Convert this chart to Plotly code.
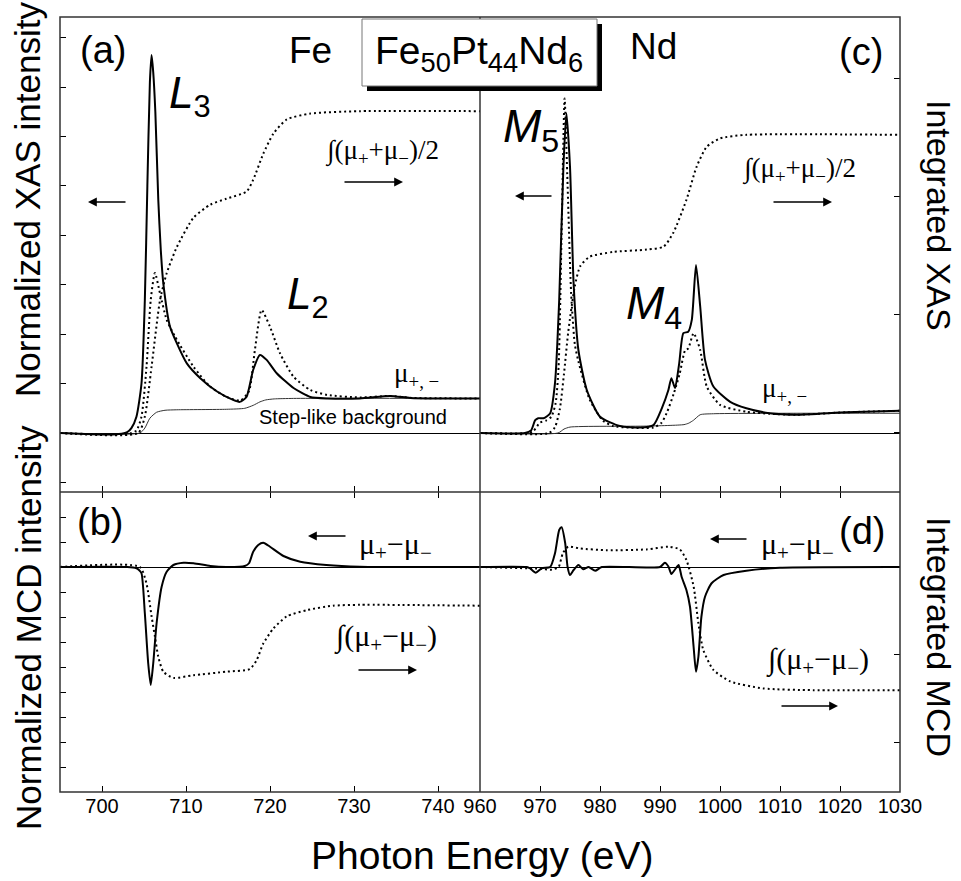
import plotly.graph_objects as go

# ---------------- Fe L2,3 edge (panels a, b) ----------------
fe_xas_minus_e = [695, 698, 700, 702, 703, 703.5, 704.1, 704.7, 705.1, 705.4, 705.7, 705.9,
                  706.1, 706.35, 706.7, 707.0, 707.3, 708.1, 708.9, 710.1, 711.7, 713.7,
                  715.6, 716.4, 717.2, 718.0, 718.8, 719.6, 720.8, 722.8, 724.8, 726.8,
                  730.7, 734.3, 736.7, 740, 745]
fe_xas_minus = [0, -0.02, -0.03, -0.02, 0.02, 0.1, 0.33, 1.0, 2.69, 5.0, 7.1, 7.65,
                7.3, 6.5, 4.72, 3.7, 3.03, 2.15, 1.82, 1.41, 1.11, 0.84,
                0.67, 0.63, 0.73, 1.28, 1.58, 1.48, 1.21, 0.91, 0.73, 0.70,
                0.70, 0.75, 0.71, 0.70, 0.70]

fe_xas_plus_e = [695, 700, 702.5, 703.5, 704.1, 704.7, 705.3, 705.8, 706.3, 706.9, 707.7,
                 708.7, 710.9, 712.8, 714.8, 716.5, 717.5, 718.2, 719.0, 720.0, 721.2,
                 722.8, 724.8, 726.8, 730.7, 734.3, 737, 745]
fe_xas_plus = [0, -0.03, -0.03, 0.0, 0.05, 0.33, 1.34, 2.69, 3.24, 2.83, 2.29,
               1.95, 1.34, 0.95, 0.73, 0.66, 0.85, 1.68, 2.49, 2.15, 1.61,
               1.14, 0.87, 0.77, 0.72, 0.75, 0.71, 0.70]

fe_step_e = [695, 704.5, 705.1, 705.7, 706.5, 707.5, 708.9, 714.8, 717.0, 718.0, 718.8,
             719.5, 720.5, 722.8, 745]
fe_step = [0, 0.0, 0.10, 0.30, 0.42, 0.46, 0.47, 0.48, 0.50, 0.56, 0.63,
           0.67, 0.69, 0.70, 0.70]

fe_int_xas_e = [695, 704.3, 705.1, 705.9, 706.9, 707.7, 708.9, 710.9, 712.9, 714.8, 717.2,
                718.0, 719.2, 720.4, 722.0, 724.8, 730.7, 745]
fe_int_xas = [0, 0, 0.14, 0.56, 1.12, 1.35, 1.57, 1.82, 1.93, 1.98, 2.04,
              2.14, 2.36, 2.53, 2.65, 2.70, 2.72, 2.72]

fe_mcd_e = [695, 703, 704.1, 704.4, 704.7, 705.1, 705.5, 705.8, 706.1, 706.5, 707.1, 707.7,
            708.5, 709.7, 710.9, 712.9, 714.8, 717.0, 717.5, 718.0, 718.6, 719.2, 720.0,
            721.6, 723.6, 726.7, 730.7, 745]
fe_mcd = [0, 0, -0.05, -0.12, -0.25, -1.85, -3.85, -4.72, -3.85, -2.25, -0.79, -0.19,
          0.08, 0.17, 0.15, 0.04, 0.0, 0.04, 0.15, 0.61, 0.88, 0.97, 0.81,
          0.44, 0.21, 0.08, 0.01, 0.0]

fe_int_mcd_e = [695, 704.5, 705.3, 705.9, 706.3, 706.7, 707.3, 708.5, 710.9, 714.8, 717.6,
                718.4, 719.2, 720.4, 722.0, 724.4, 727.5, 730.7, 745]
fe_int_mcd = [0, 0, -0.19, -0.56, -0.79, -1.02, -1.19, -1.26, -1.23, -1.19, -1.16,
              -1.06, -0.87, -0.70, -0.56, -0.49, -0.44, -0.43, -0.44]

# ---------------- Nd M4,5 edge (panels c, d) ----------------
nd_xas_minus_e = [960, 967.5, 968.5, 969.2, 969.7, 970.6, 971.7, 972.5, 973.2, 973.9, 974.4,
                  975.0, 975.6, 976.4, 977.8, 980.0, 983.3, 986.7, 988.9, 990.3, 991.4,
                  991.9, 992.5, 993.2, 993.9, 994.7, 995.3, 996.0, 996.7, 997.5, 998.9,
                  1001.7, 1004.4, 1008.3, 1012.8, 1021.1, 1030]
nd_xas_minus = [0, 0, 0.05, 0.26, 0.30, 0.30, 0.40, 1.01, 2.69, 5.39, 6.47,
                5.39, 3.03, 1.68, 0.87, 0.33, 0.14, 0.11, 0.16, 0.50, 0.87,
                1.11, 0.91, 1.41, 2.02, 2.05, 2.29, 3.40, 2.56, 1.48, 0.94,
                0.63, 0.50, 0.40, 0.37, 0.42, 0.45]

nd_xas_plus_e = [960, 968.0, 968.9, 970.0, 971.0, 971.9, 972.6, 973.1, 973.6, 974.1, 974.6,
                 975.2, 975.8, 976.4, 978.3, 980.5, 982.2, 988.9, 990.2, 991.1, 992.3,
                 993.3, 994.2, 994.7, 995.6, 996.7, 997.8, 1000.0, 1004.4, 1008.3, 1012.8,
                 1021.1, 1030]
nd_xas_plus = [0, 0, 0.04, 0.21, 0.25, 0.33, 0.6, 1.34, 4.05, 6.77, 5.0,
               2.8, 1.8, 1.45, 0.67, 0.25, 0.14, 0.11, 0.2, 0.40, 0.8,
               1.21, 1.68, 1.71, 2.02, 1.68, 0.94, 0.57, 0.43, 0.39, 0.37,
               0.42, 0.45]

nd_step_e = [960, 973.0, 974.0, 975.0, 987.8, 994.0, 994.8, 995.6, 996.7, 998.9, 1030]
nd_step = [0, 0, 0.08, 0.12, 0.14, 0.17, 0.20, 0.26, 0.37, 0.39, 0.40]

nd_int_xas_e = [960, 971.5, 972.5, 973.3, 974.0, 974.7, 975.8, 976.7, 978.3, 982.2, 987.8,
                990.6, 992.2, 994.4, 996.1, 997.8, 1000.0, 1004.4, 1030]
nd_int_xas = [0, 0, 0.05, 0.2, 0.5, 0.85, 1.24, 1.41, 1.49, 1.53, 1.55,
              1.575, 1.69, 1.97, 2.25, 2.42, 2.49, 2.52, 2.52]

nd_mcd_e = [960, 967.8, 968.3, 969.3, 970.3, 971.7, 972.5, 973.2, 973.6, 974.2, 974.6,
            975.0, 975.6, 976.4, 977.2, 978.1, 979.2, 980.3, 990.0, 990.8, 991.4,
            991.9, 992.5, 993.1, 993.6, 994.4, 995.0, 995.6, 996.0, 996.4, 996.9,
            997.5, 998.6, 1000.6, 1004.4, 1010, 1030]
nd_mcd = [0, 0, -0.05, -0.23, -0.05, 0, 0.55, 1.48, 1.59, 0.95, 0,
          -0.32, -0.12, 0.08, -0.09, 0, -0.15, 0, 0, 0.17, 0.02,
          -0.28, -0.1, 0.08, -0.39, -0.92, -1.59, -3.19, -4.19, -3.59, -1.99,
          -1.19, -0.65, -0.32, -0.15, -0.03, 0]

nd_int_mcd_e = [960, 970.0, 972.0, 973.1, 973.8, 974.7, 976.7, 981.1, 987.8, 991.4, 993.3,
                994.4, 995.6, 996.4, 997.2, 998.9, 1001.7, 1007.2, 1015.6, 1030]
nd_int_mcd = [0, -0.02, -0.03, 0, 0.155, 0.23, 0.21, 0.19, 0.20, 0.23, 0.20,
              0.08, -0.22, -0.64, -0.94, -1.17, -1.30, -1.38, -1.40, -1.40]

# tick positions
fe_ticks = [700, 710, 720, 730, 740]
nd_ticks = [960, 970, 980, 990, 1000, 1010, 1020, 1030]
xas_ticks = [-1, 0, 1, 2, 3, 4, 5, 6, 7, 8]
mcd_ticks = [-8, -7, -6, -5, -4, -3, -2, -1, 0, 1, 2]
int_xas_ticks = [0, 1, 2, 3]
int_mcd_ticks = [-2, -1, 0]

# ---------------- geometry helpers ----------------
W, H = 961, 881
ML, MR, MT, MB = 60, 61, 17, 89
PW = W - ML - MR
PH = H - MT - MB


def fx(x):
    return (x - ML) / PW


def fy(y):
    return (H - MB - y) / PH


SPLIT = fy(492)

SANS = "Liberation Sans, Arial, Helvetica, sans-serif"
SERIF = "Liberation Serif, Times New Roman, serif"

fig = go.Figure()

solid = dict(color="black", width=2, shape="spline", smoothing=0.6)
dotted = dict(color="black", width=2, dash="2px,3px", shape="spline", smoothing=0.6)
thin = dict(color="#333333", width=1, shape="spline", smoothing=0.6)


def add(x, y, xa, ya, line):
    fig.add_trace(go.Scatter(x=x, y=y, xaxis=xa, yaxis=ya, mode="lines", line=line,
                             showlegend=False, hoverinfo="skip"))


# (a) Fe XAS
add(fe_step_e, fe_step, "x", "y", thin)
add(fe_xas_plus_e, fe_xas_plus, "x", "y", dotted)
add(fe_xas_minus_e, fe_xas_minus, "x", "y", solid)
add(fe_int_xas_e, fe_int_xas, "x", "y7", dotted)
# (b) Fe MCD
add(fe_int_mcd_e, fe_int_mcd, "x2", "y8", dotted)
add(fe_mcd_e, fe_mcd, "x2", "y2", solid)
# (c) Nd XAS
add(nd_step_e, nd_step, "x3", "y3", thin)
add(nd_xas_plus_e, nd_xas_plus, "x3", "y3", dotted)
add(nd_xas_minus_e, nd_xas_minus, "x3", "y3", solid)
add(nd_int_xas_e, nd_int_xas, "x3", "y5", dotted)
# (d) Nd MCD
add(nd_int_mcd_e, nd_int_mcd, "x4", "y6", dotted)
add(nd_mcd_e, nd_mcd, "x4", "y4", solid)


def axis(**kw):
    base = dict(ticks="inside", ticklen=6, tickwidth=1, tickcolor="black",
                showline=False, showgrid=False, zeroline=False, showticklabels=False)
    base.update(kw)
    return base


ticklab = dict(showticklabels=True, tickfont=dict(family=SANS, size=20, color="black"))
zl = dict(zeroline=True, zerolinecolor="black", zerolinewidth=1.2)

XAS_RANGE = [-1.194, 8.42]
INT_XAS_RANGE = [-0.499, 3.516]
MCD_RANGE = [-9, 3]
INT_MCD_RANGE = [-2.557, 0.852]
FE_RANGE = [695, 745]
ND_RANGE = [960, 1030]
TOP = [SPLIT, 1]
BOT = [0, SPLIT]

fig.update_layout(
    width=W, height=H,
    margin=dict(l=ML, r=MR, t=MT, b=MB, pad=0),
    plot_bgcolor="white", paper_bgcolor="white",
    xaxis=axis(domain=[0, 0.5], range=FE_RANGE, anchor="y", tickvals=fe_ticks),
    xaxis2=axis(domain=[0, 0.5], range=FE_RANGE, anchor="y2", tickvals=fe_ticks,
                mirror="ticks", **ticklab),
    xaxis3=axis(domain=[0.5, 1], range=ND_RANGE, anchor="y3", tickvals=nd_ticks),
    xaxis4=axis(domain=[0.5, 1], range=ND_RANGE, anchor="y4", tickvals=nd_ticks,
                mirror="ticks", **ticklab),
    xaxis5=axis(overlaying="x", side="top", anchor="y", range=FE_RANGE,
                tickvals=[700, 720, 740]),
    xaxis6=axis(overlaying="x3", side="top", anchor="y3", range=ND_RANGE, tickvals=[1000]),
    yaxis=axis(domain=TOP, range=XAS_RANGE, anchor="x", tickvals=xas_ticks, **zl),
    yaxis2=axis(domain=BOT, range=MCD_RANGE, anchor="x2", tickvals=mcd_ticks, **zl),
    yaxis3=axis(domain=TOP, range=XAS_RANGE, anchor="x3", ticks="", **zl),
    yaxis4=axis(domain=BOT, range=MCD_RANGE, anchor="x4", ticks="", **zl),
    yaxis5=axis(overlaying="y3", side="right", anchor="x3", range=INT_XAS_RANGE,
                tickvals=int_xas_ticks),
    yaxis6=axis(overlaying="y4", side="right", anchor="x4", range=INT_MCD_RANGE,
                tickvals=int_mcd_ticks),
    yaxis7=axis(overlaying="y", anchor="x", range=INT_XAS_RANGE, ticks=""),
    yaxis8=axis(overlaying="y2", anchor="x2", range=INT_MCD_RANGE, ticks=""),
)

FRAME = "#333333"
shapes = [
    dict(type="rect", xref="paper", yref="paper", x0=0, x1=1, y0=0, y1=1,
         line=dict(color=FRAME, width=1.5)),
    dict(type="line", xref="paper", yref="paper", x0=0, x1=1, y0=SPLIT, y1=SPLIT,
         line=dict(color=FRAME, width=1.5)),
    dict(type="line", xref="paper", yref="paper", x0=0.5, x1=0.5, y0=0, y1=1,
         line=dict(color=FRAME, width=1.5)),
    # composition label box with drop shadow
    dict(type="rect", xref="paper", yref="paper", x0=fx(367), x1=fx(602), y0=fy(91), y1=fy(24),
         fillcolor="black", line=dict(width=0)),
    dict(type="rect", xref="paper", yref="paper", x0=fx(362), x1=fx(597), y0=fy(86), y1=fy(19),
         fillcolor="white", line=dict(color="#777777", width=1)),
]
fig.update_layout(shapes=shapes)

ann = []


def txt(x, y, text, size, family=SANS, xanchor="center", yanchor="middle", angle=0):
    ann.append(dict(x=fx(x), y=fy(y), xref="paper", yref="paper", text=text, showarrow=False,
                    xanchor=xanchor, yanchor=yanchor, textangle=angle,
                    font=dict(family=family, size=size, color="black")))


def arrow(x0, y0, x1, y1):
    ann.append(dict(x=fx(x1), y=fy(y1), xref="paper", yref="paper", text="",
                    showarrow=True, ax=x0 - x1, ay=y0 - y1, arrowhead=2, arrowsize=1.1,
                    arrowwidth=1.6, arrowcolor="black", standoff=0, startstandoff=0))


# composition
txt(479, 53, "Fe<sub>50</sub>Pt<sub>44</sub>Nd<sub>6</sub>", 39)
# panel labels and elements
txt(103, 50, "(a)", 38)
txt(861, 52, "(c)", 38)
txt(100, 522, "(b)", 38)
txt(862, 531, "(d)", 38)
txt(310, 50, "Fe", 37)
txt(653, 47, "Nd", 37)
# edge labels
txt(167, 96, "<i>L</i><sub>3</sub>", 44, xanchor="left")
txt(285, 297, "<i>L</i><sub>2</sub>", 44, xanchor="left")
txt(501, 130, "<i>M</i><sub>5</sub>", 46, xanchor="left")
txt(624, 306, "<i>M</i><sub>4</sub>", 46, xanchor="left")
# curve labels
txt(323, 152, "∫(μ<sub>+</sub>+μ<sub>−</sub>)/2", 27, SERIF, xanchor="left")
txt(740, 170, "∫(μ<sub>+</sub>+μ<sub>−</sub>)/2", 27, SERIF, xanchor="left")
txt(392, 375, "μ<sub>+, −</sub>", 27, SERIF, xanchor="left")
txt(760, 390, "μ<sub>+, −</sub>", 27, SERIF, xanchor="left")
txt(257, 417, "Step-like background", 20, xanchor="left")
txt(357, 546, "μ<sub>+</sub>−μ<sub>−</sub>", 30, SERIF, xanchor="left")
txt(759, 546, "μ<sub>+</sub>−μ<sub>−</sub>", 30, SERIF, xanchor="left")
txt(332, 638, "∫(μ<sub>+</sub>−μ<sub>−</sub>)", 30, SERIF, xanchor="left")
txt(764, 661, "∫(μ<sub>+</sub>−μ<sub>−</sub>)", 30, SERIF, xanchor="left")
# arrows pointing to the axis each curve belongs to
arrow(127, 202, 88, 202)
arrow(343, 182, 403, 182)
arrow(553, 196, 515, 196)
arrow(772, 202, 832, 202)
arrow(347, 536, 308, 536)
arrow(357, 670, 417, 670)
arrow(748, 539, 710, 539)
arrow(780, 706, 838, 706)
# axis titles
txt(28, 200, "Normalized XAS intensity", 35, angle=-90)
txt(28, 628, "Normalized MCD intensity", 35, angle=-90)
txt(939, 215, "Integrated XAS", 34, angle=90)
txt(939, 637, "Integrated MCD", 34, angle=90)
txt(482, 855, "Photon Energy (eV)", 39)

fig.update_layout(annotations=ann)
fig.write_html("out.html")
